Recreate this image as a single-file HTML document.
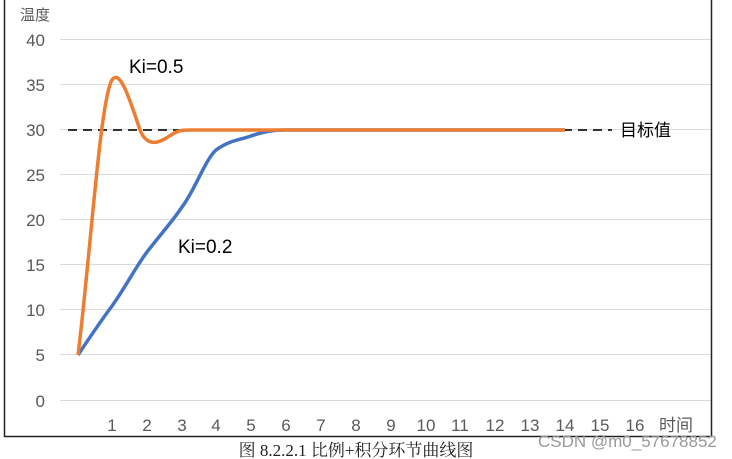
<!DOCTYPE html>
<html><head><meta charset="utf-8"><style>
body{margin:0;background:#fff;}
svg{display:block}
</style></head><body>
<svg width="732" height="459" xmlns="http://www.w3.org/2000/svg" font-family="Liberation Sans, Noto Sans CJK SC, sans-serif">
<rect width="732" height="459" fill="#fff"/>
<g stroke="#d9d9d9" stroke-width="1">
<line x1="60" y1="39.5" x2="712" y2="39.5"/>
<line x1="60" y1="84.5" x2="712" y2="84.5"/>
<line x1="60" y1="129.5" x2="712" y2="129.5"/>
<line x1="60" y1="174.5" x2="712" y2="174.5"/>
<line x1="60" y1="219.5" x2="712" y2="219.5"/>
<line x1="60" y1="264.5" x2="712" y2="264.5"/>
<line x1="60" y1="309.5" x2="712" y2="309.5"/>
<line x1="60" y1="354.5" x2="712" y2="354.5"/>
<line x1="60" y1="400.5" x2="712" y2="400.5"/>
</g>
<path d="M4.5 0 V436.5 H711.5 V0" fill="none" stroke="#222" stroke-width="1.5"/>
<g fill="#595959" font-size="17" text-anchor="end">
<text x="45" y="46">40</text><text x="45" y="91">35</text><text x="45" y="136">30</text>
<text x="45" y="181">25</text><text x="45" y="226">20</text><text x="45" y="271">15</text>
<text x="45" y="316">10</text><text x="45" y="361">5</text><text x="45" y="407">0</text>
</g>
<text x="20" y="20" font-size="15" fill="#595959">温度</text>
<g fill="#595959" font-size="17" text-anchor="middle">
<text x="112" y="431">1</text><text x="147" y="431">2</text><text x="182" y="431">3</text><text x="216" y="431">4</text>
<text x="251" y="431">5</text><text x="286" y="431">6</text><text x="321" y="431">7</text><text x="356" y="431">8</text>
<text x="391" y="431">9</text><text x="426" y="431">10</text><text x="460" y="431">11</text><text x="495" y="431">12</text>
<text x="530" y="431">13</text><text x="565" y="431">14</text><text x="600" y="431">15</text><text x="635" y="431">16</text>
<text x="676" y="431">时间</text>
</g>
<line x1="68" y1="130" x2="612" y2="130" stroke="#333" stroke-width="2" stroke-dasharray="9,6"/>
<text x="620" y="136" font-size="17" fill="#000">目标值</text>
<path d="M78 355 C88 340,100 322,112 306 C125 288,135 268,147 252 C160 235,172 222,182 207 C195 190,205 160,216 150 C230 140,240 140,251 136 C265 131,275 130,286 130 L565 130" fill="none" stroke="#4472c4" stroke-width="3.5"/>
<path d="M78 355 C90 260,100 100,112 80 C120 68,130 100,140 130 C146 145,156 145,168 137 C178 130,182 130,190 130 L565 130" fill="none" stroke="#ed7d31" stroke-width="3.5"/>
<text x="129" y="73" font-size="19" fill="#000">Ki=0.5</text>
<text x="178" y="253" font-size="19" fill="#000">Ki=0.2</text>
<text x="356" y="456" font-size="17" text-anchor="middle" font-family="Liberation Serif, Noto Serif CJK SC, serif" fill="#222">图 8.2.2.1 比例+积分环节曲线图</text>
<text x="538" y="447" font-size="17" fill="#999">CSDN @m0_57678852</text>
</svg>
</body></html>
